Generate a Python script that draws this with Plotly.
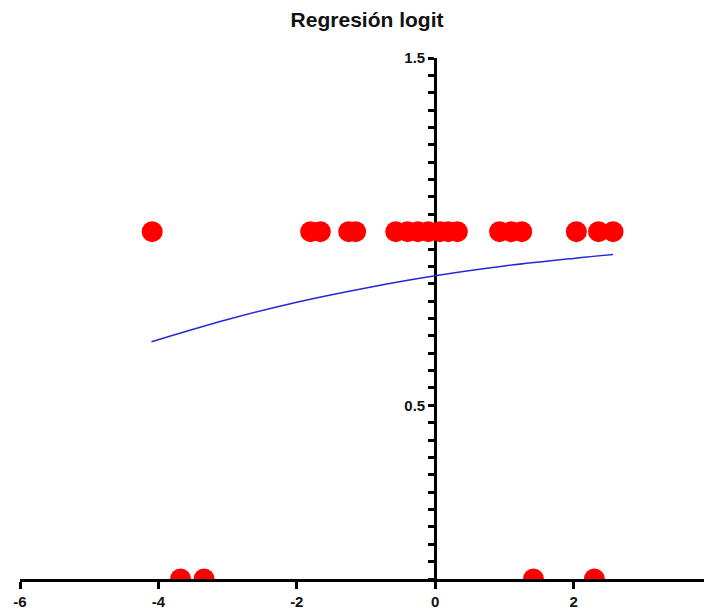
import plotly.graph_objects as go

# Observed data points
x_one = [-4.09, -1.8, -1.66, -1.25, -1.15, -0.57, -0.4, -0.25, -0.1, 0.07, 0.19, 0.32,
         0.93, 1.1, 1.25, 2.04, 2.36, 2.57]
y_one = [1] * len(x_one)
x_zero = [-3.68, -3.34, 1.42, 2.3]
y_zero = [0] * len(x_zero)

# Fitted curve
curve_x = [-4.1, -3.0, -2.0, -1.0, 0.0, 1.0, 2.0, 2.57]
curve_y = [0.683, 0.747, 0.797, 0.838, 0.873, 0.901, 0.923, 0.934]

x_ticks = [-6, -4, -2, 0, 2, 4]
x_labels = ["-6", "-4", "-2", "0", "2", "4"]
y_ticks = [0.5, 1.5]
y_labels = ["0.5", "1.5"]

fig = go.Figure()
fig.add_trace(go.Scatter(x=curve_x, y=curve_y, mode="lines",
                         line=dict(color="#2727d6", width=1.5, shape="spline"),
                         hoverinfo="skip"))
fig.add_trace(go.Scatter(x=x_one + x_zero, y=y_one + y_zero, mode="markers",
                         marker=dict(color="#ff0000", size=21, line=dict(width=0))))

tick_font = dict(family="Liberation Sans, Arial, sans-serif", size=15, color="#111", weight="bold")

fig.update_layout(
    width=704, height=606,
    margin=dict(l=12, r=0, t=50, b=35),
    paper_bgcolor="white", plot_bgcolor="white",
    showlegend=False,
    title=dict(text="Regresión logit", x=0.51, xanchor="center", y=0.98, yanchor="middle",
               font=dict(family="Liberation Sans, Arial, sans-serif", size=21, color="#111", weight="bold")),
    xaxis=dict(range=[-6, 4], tickvals=x_ticks, ticktext=x_labels, ticks="outside", ticklen=7, tickwidth=2.5,
               tickcolor="black", showline=True, linecolor="black", linewidth=3,
               showgrid=False, zeroline=False, tickfont=tick_font, layer="below traces",
               anchor="y", automargin=False, fixedrange=True, ticklabeloverflow="allow"),
    yaxis=dict(range=[0, 1.5], tickvals=y_ticks, ticktext=y_labels, ticks="outside",
               ticklen=6, tickwidth=2.5, tickcolor="black", showline=True, linecolor="black",
               linewidth=3, showgrid=False, zeroline=False, tickfont=tick_font,
               anchor="free", position=0.6, layer="below traces", automargin=False,
               minor=dict(dtick=0.05, tick0=0, ticks="outside", ticklen=6, tickwidth=2.5,
                          tickcolor="black", showgrid=False)),
)

fig.write_html("out.html")
